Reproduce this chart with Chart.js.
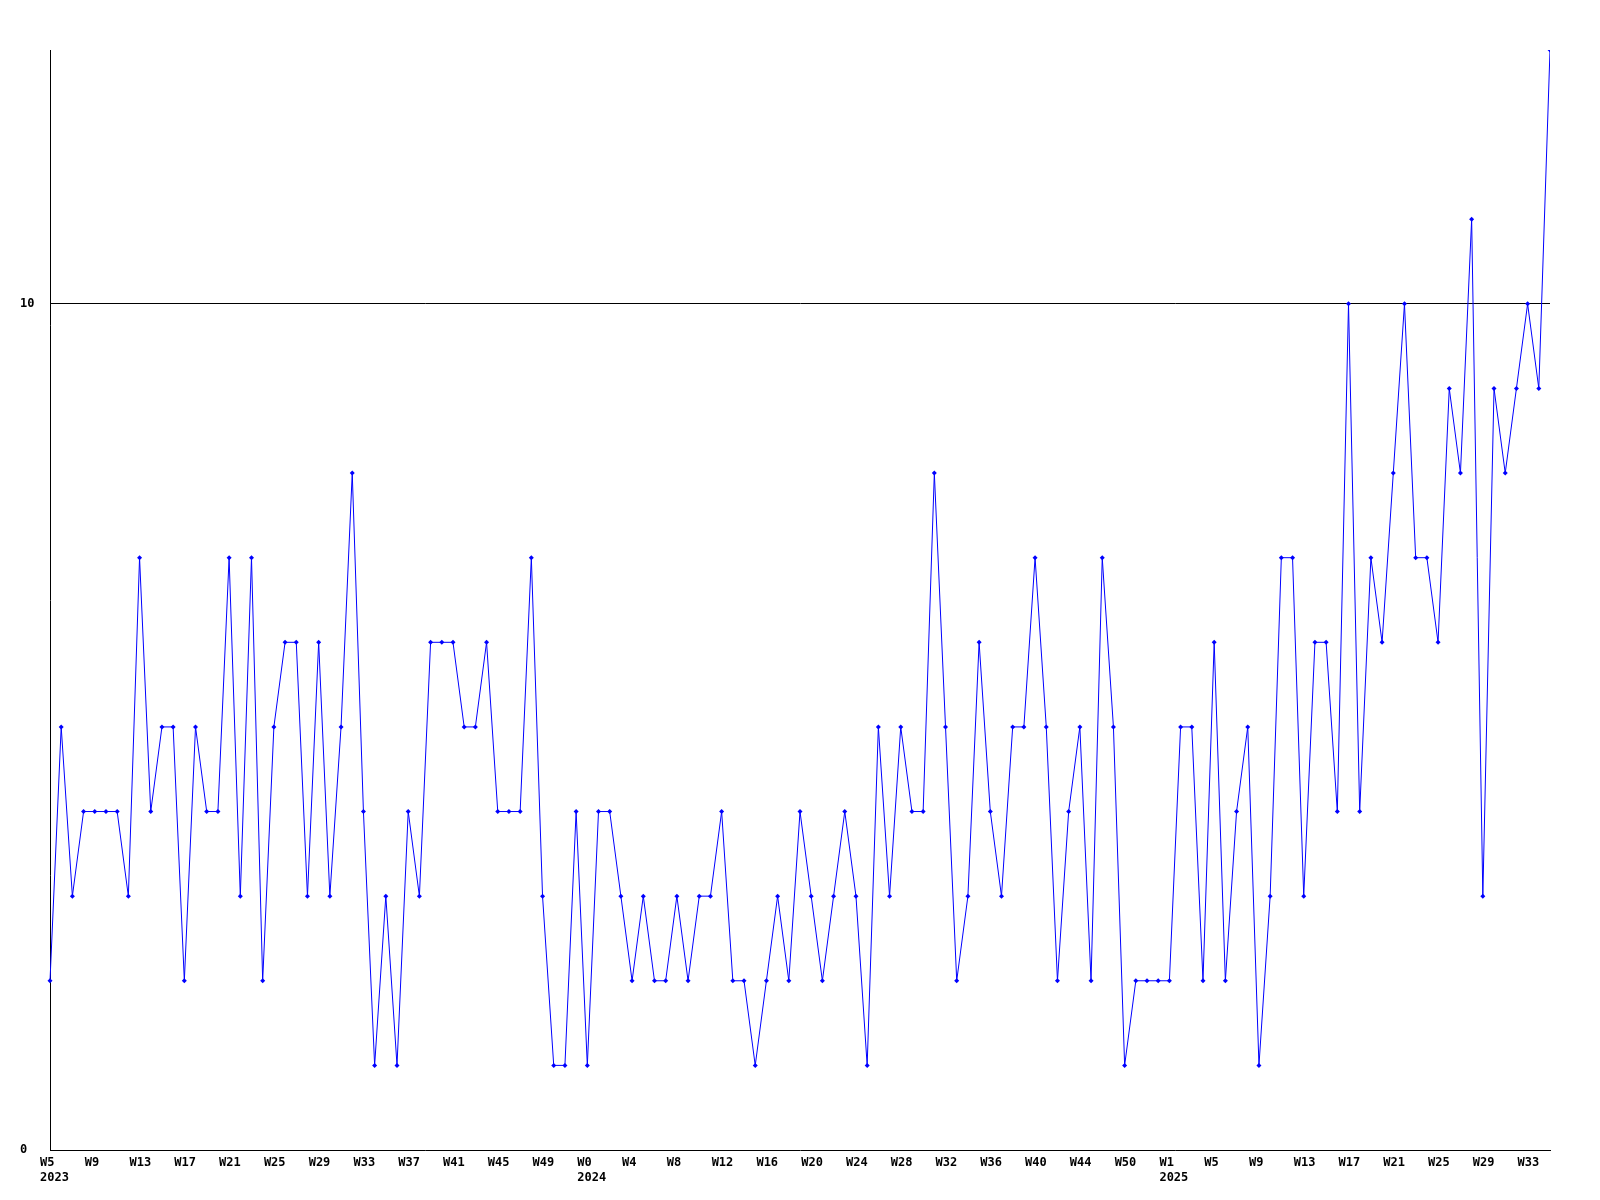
<!DOCTYPE html>
<html>
<head>
<meta charset="utf-8">
<script src="https://cdn.jsdelivr.net/npm/chart.js@4/dist/chart.umd.min.js"></script>
<style>
  html, body { margin: 0; padding: 0; background: #fff; }
  #wrap { width: 1600px; height: 1200px; }
</style>
</head>
<body>
<div id="wrap"><canvas id="chart" width="1600" height="1200"></canvas></div>
<script>
// weekly counts, 2023 W5 .. 2025 W35
const counts = [
  2, 5, 3, 4, 4, 4, 4, 3, 7, 4,
  5, 5, 2, 5, 4, 4, 7, 3, 7, 2,
  5, 6, 6, 3, 6, 3, 5, 8, 4, 1,
  3, 1, 4, 3, 6, 6, 6, 5, 5, 6,
  4, 4, 4, 7, 3, 1, 1, 4, 1, 4,
  4, 3, 2, 3, 2, 2, 3, 2, 3, 3,
  4, 2, 2, 1, 2, 3, 2, 4, 3, 2,
  3, 4, 3, 1, 5, 3, 5, 4, 4, 8,
  5, 2, 3, 6, 4, 3, 5, 5, 7, 5,
  2, 4, 5, 2, 7, 5, 1, 2, 2, 2,
  2, 5, 5, 2, 6, 2, 4, 5, 1, 3,
  7, 7, 3, 6, 6, 4, 10, 4, 7, 6,
  8, 10, 7, 7, 6, 9, 8, 11, 3, 9,
  8, 9, 10, 9, 13
];

// one label every 4th week
const tickLabels = [
  ['W5', '2023'], 'W9', 'W13', 'W17', 'W21', 'W25', 'W29', 'W33', 'W37', 'W41', 'W45', 'W49',
  ['W0', '2024'], 'W4', 'W8', 'W12', 'W16', 'W20', 'W24', 'W28', 'W32', 'W36', 'W40', 'W44', 'W50',
  ['W1', '2025'], 'W5', 'W9', 'W13', 'W17', 'W21', 'W25', 'W29', 'W33'
];
const tickEvery = 4;

const yTicks = [0, 10];
const yMax = 13;

const font = { family: 'DejaVu Sans Mono', size: 12, weight: 'bold', lineHeight: '15px' };

function main() {
  const ctx = document.getElementById('chart');
  new Chart(ctx, {
    type: 'line',
    data: {
      labels: counts.map((_, i) => i),
      datasets: [{
        data: counts,
        borderColor: '#0000ff',
        backgroundColor: '#0000ff',
        borderWidth: 1,
        tension: 0,
        clip: { left: 5, top: 0, right: 0, bottom: 5 },
        pointStyle: 'rectRot',
        pointRadius: 2.5,
        pointBorderWidth: 0,
        pointBackgroundColor: '#0000ff'
      }]
    },
    options: {
      responsive: false,
      animation: false,
      layout: { padding: { top: 50, right: 50, bottom: 8, left: 20 } },
      plugins: { legend: { display: false }, tooltip: { enabled: false } },
      scales: {
        x: {
          type: 'category',
          offset: false,
          grid: { display: false, drawTicks: false },
          border: { display: true, color: '#000', width: 1 },
          ticks: {
            autoSkip: false,
            maxRotation: 0,
            minRotation: 0,
            align: 'start',
            labelOffset: -10,
            padding: 5,
            color: '#000',
            font: font,
            callback: (v, i) => (i % tickEvery === 0 ? tickLabels[i / tickEvery] : '')
          },
          afterFit: (s) => { s.height = 42; }
        },
        y: {
          min: 0,
          max: yMax,
          afterBuildTicks: (s) => { s.ticks = yTicks.map(v => ({ value: v })); },
          grid: {
            drawTicks: false,
            color: (c) => (c.tick && c.tick.value === 0 ? 'rgba(0,0,0,0)' : '#000'),
            lineWidth: 1
          },
          border: { display: true, color: '#000', width: 1 },
          ticks: {
            crossAlign: 'far',
            padding: 16,
            color: '#000',
            font: font
          },
          afterFit: (s) => { s.width = 30; }
        }
      }
    }
  });
}

main();
</script>
</body>
</html>
